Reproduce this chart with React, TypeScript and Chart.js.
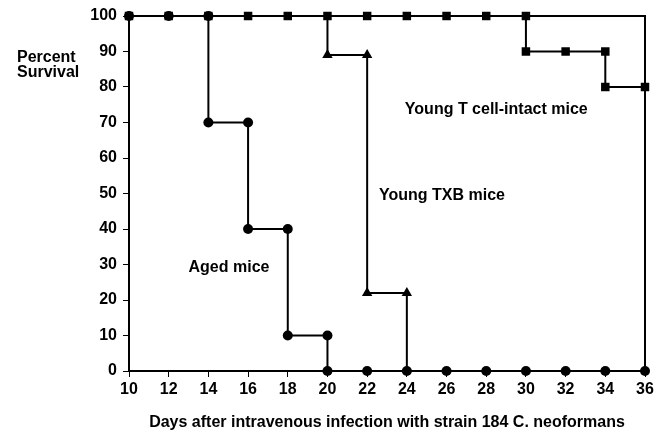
import React, { useEffect, useRef } from 'react';
import { Chart, registerables } from 'chart.js';

Chart.register(...registerables);

// ---- data ----
const agedDays = [10, 12, 14, 14, 16, 16, 18, 18, 20, 20, 22, 24, 26, 28, 30, 32, 34, 36];
const agedSurvival = [100, 100, 100, 70, 70, 40, 40, 10, 10, 0, 0, 0, 0, 0, 0, 0, 0, 0];

const txbDays = [10, 20, 20, 22, 22, 24, 24];
const txbSurvival = [100, 100, 89, 89, 22, 22, 0];

const intactDays = [10, 12, 14, 16, 18, 20, 22, 24, 26, 28, 30, 30, 32, 34, 34, 36];
const intactSurvival = [100, 100, 100, 100, 100, 100, 100, 100, 100, 100, 100, 90, 90, 90, 80, 80];

const xTickValues = [10, 12, 14, 16, 18, 20, 22, 24, 26, 28, 30, 32, 34, 36];
const yTickValues = [0, 10, 20, 30, 40, 50, 60, 70, 80, 90, 100];

const seriesNames = ['Aged mice', 'Young TXB mice', 'Young T cell-intact mice'];
const seriesLabelDay = [13.0, 22.6, 23.9];
const seriesLabelSurvival = [29, 49.5, 73.5];

const xTitle = 'Days after intravenous infection with strain 184 C. neoformans';
const yTitleLines = ['Percent', 'Survival'];

const FONT_FAMILY = '"Liberation Sans", Arial, Helvetica, sans-serif';
const FONT_SIZE = 16;

const toPoints = (xs: number[], ys: number[]) => xs.map((x, i) => ({ x, y: ys[i] }));

export default function App() {
  const canvasRef = useRef<HTMLCanvasElement | null>(null);

  useEffect(() => {
    document.body.style.margin = '0';
    const canvas = canvasRef.current;
    if (!canvas) return;

    const framePlugin = {
      id: 'frameAndText',
      beforeDatasetsDraw(chart: any) {
        const { ctx, chartArea } = chart;
        ctx.save();
        ctx.strokeStyle = '#000';
        ctx.lineWidth = 2;
        ctx.strokeRect(chartArea.left, chartArea.top, chartArea.right - chartArea.left, chartArea.bottom - chartArea.top);
        ctx.restore();
      },
      afterDatasetsDraw(chart: any) {
        const { ctx, scales } = chart;
        ctx.save();
        ctx.fillStyle = '#000';
        ctx.font = `bold ${FONT_SIZE}px ${FONT_FAMILY}`;
        ctx.textAlign = 'left';
        ctx.textBaseline = 'middle';
        seriesNames.forEach((name, i) => {
          ctx.fillText(name, scales.x.getPixelForValue(seriesLabelDay[i]), scales.y.getPixelForValue(seriesLabelSurvival[i]));
        });
        yTitleLines.forEach((line, i) => {
          ctx.fillText(line, 17, chart.chartArea.top + 42 + i * 15);
        });
        ctx.restore();
      },
    };

    const commonLine = {
      borderColor: '#000',
      backgroundColor: '#000',
      borderWidth: 2,
      pointBorderWidth: 0,
      pointBackgroundColor: '#000',
      pointBorderColor: '#000',
      tension: 0,
      clip: false as any,
      fill: false,
    };

    const chart = new Chart(canvas, {
      type: 'line',
      data: {
        datasets: [
          {
            ...commonLine,
            label: seriesNames[0],
            data: toPoints(agedDays, agedSurvival),
            pointStyle: 'circle',
            pointRadius: 5,
            order: 0,
          },
          {
            ...commonLine,
            label: seriesNames[1],
            data: toPoints(txbDays, txbSurvival),
            pointStyle: 'triangle',
            pointRadius: (c: any) => (c.dataIndex >= 2 && c.dataIndex <= 5 ? 6 : 0),
            order: 1,
          },
          {
            ...commonLine,
            label: seriesNames[2],
            data: toPoints(intactDays, intactSurvival),
            pointStyle: 'rect',
            pointRadius: 6,
            order: 2,
          },
        ],
      },
      options: {
        animation: false,
        responsive: false,
        events: [],
        layout: { padding: { left: 0, right: 20, top: 16, bottom: 0 } },
        plugins: {
          legend: { display: false },
          tooltip: { enabled: false },
          title: { display: false },
        },
        scales: {
          x: {
            type: 'linear',
            min: 10,
            max: 36,
            afterBuildTicks: (s: any) => {
              s.ticks = xTickValues.map((v) => ({ value: v }));
            },
            afterFit: (s: any) => {
              s.height = 63;
            },
            grid: { drawOnChartArea: false, drawTicks: true, tickLength: 6, color: '#000', lineWidth: 1 },
            border: { display: false },
            ticks: {
              color: '#000',
              padding: 3,
              maxRotation: 0,
              autoSkip: false,
              font: { family: FONT_FAMILY, size: FONT_SIZE, weight: 'bold' },
            },
            title: {
              display: true,
              text: xTitle,
              color: '#000',
              padding: { top: 0, bottom: 2 },
              font: { family: FONT_FAMILY, size: FONT_SIZE, weight: 'bold' },
            },
          },
          y: {
            type: 'linear',
            min: 0,
            max: 100,
            afterBuildTicks: (s: any) => {
              s.ticks = yTickValues.map((v) => ({ value: v }));
            },
            afterFit: (s: any) => {
              s.width = 129;
            },
            grid: { drawOnChartArea: false, drawTicks: true, tickLength: 6, color: '#000', lineWidth: 1 },
            border: { display: false },
            ticks: {
              color: '#000',
              padding: 6,
              autoSkip: false,
              font: { family: FONT_FAMILY, size: FONT_SIZE, weight: 'bold' },
            },
          },
        },
      },
      plugins: [framePlugin],
    } as any);

    return () => chart.destroy();
  }, []);

  return <canvas ref={canvasRef} width={665} height={434} style={{ display: 'block' }} />;
}
